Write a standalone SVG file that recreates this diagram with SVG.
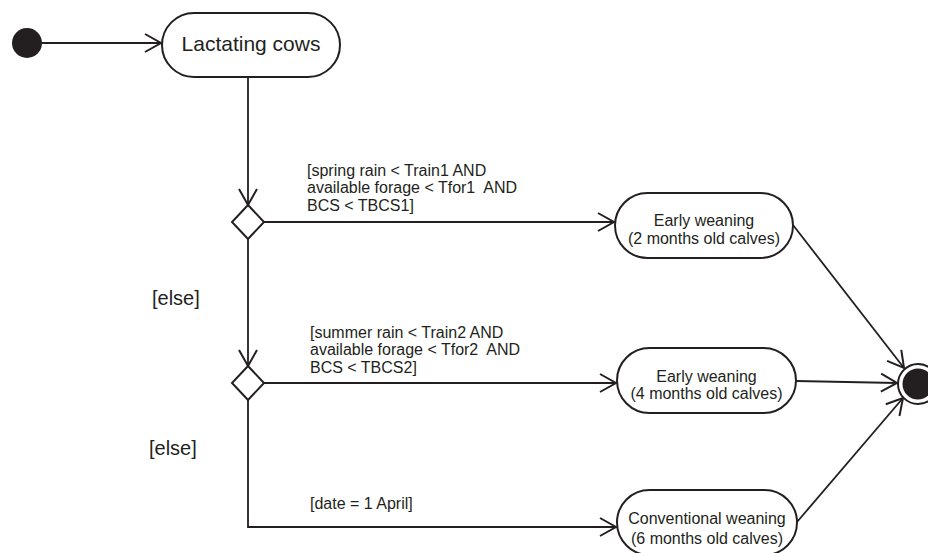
<svg xmlns="http://www.w3.org/2000/svg" width="928" height="553" viewBox="0 0 928 553">
<style>
text{font-family:"Liberation Sans",Arial,sans-serif;fill:#231f20;white-space:pre}
.box{fill:#fff;stroke:#231f20;stroke-width:2}
.edge{fill:none;stroke:#231f20;stroke-width:1.8}
.lbl{font-size:16px}
.st{font-size:16px;text-anchor:middle}
.else{font-size:20px}
</style>
<defs>
<marker id="arr" markerUnits="userSpaceOnUse" markerWidth="24" markerHeight="24" viewBox="-20 -12 24 24" refX="0" refY="0" orient="auto">
<path d="M-16,-9 L0,0 L-16,9" fill="none" stroke="#231f20" stroke-width="2"/>
</marker>
</defs>
<rect width="928" height="553" fill="#fff"/>
<g id="connectors">
<path class="edge" d="M42,43 H161" marker-end="url(#arr)"/>
<path class="edge" d="M248,77 V205" marker-end="url(#arr)"/>
<path class="edge" d="M264,222 H614" marker-end="url(#arr)"/>
<path class="edge" d="M248,239 V366" marker-end="url(#arr)"/>
<path class="edge" d="M264,383 H616" marker-end="url(#arr)"/>
<path class="edge" d="M248,400 V527 H616" marker-end="url(#arr)"/>
<path class="edge" d="M793,225 L904,368" marker-end="url(#arr)"/>
<path class="edge" d="M796,381 L897,383" marker-end="url(#arr)"/>
<path class="edge" d="M797,522 L903,398" marker-end="url(#arr)"/>
<text class="lbl" x="307" y="176">[spring rain &lt; Train1 AND</text>
<text class="lbl" x="307" y="193">available forage &lt; Tfor1  AND</text>
<text class="lbl" x="307" y="211">BCS &lt; TBCS1]</text>
<text class="lbl" x="310" y="338">[summer rain &lt; Train2 AND</text>
<text class="lbl" x="310" y="355">available forage &lt; Tfor2  AND</text>
<text class="lbl" x="310" y="373">BCS &lt; TBCS2]</text>
<text class="lbl" x="310" y="509">[date = 1 April]</text>
<text class="else" x="152" y="305">[else]</text>
<text class="else" x="149" y="455">[else]</text>
</g>
<g id="initial">
<circle cx="27" cy="43" r="15" fill="#231f20"/>
</g>
<g id="lactating">
<rect class="box" x="162" y="13" width="178" height="64" rx="32"/>
<text x="251" y="51" style="font-size:21px;text-anchor:middle">Lactating cows</text>
</g>
<g id="decision1">
<polygon class="box" points="248,205 264,222 248,239 232,222"/>
</g>
<g id="decision2">
<polygon class="box" points="248,366 264,383 248,400 232,383"/>
</g>
<g id="early2">
<rect class="box" x="615" y="193" width="178" height="65" rx="32.5"/>
<text class="st" x="704" y="226">Early weaning</text>
<text class="st" x="704" y="244">(2 months old calves)</text>
</g>
<g id="early4">
<rect class="box" x="617" y="348" width="179" height="65" rx="32.5"/>
<text class="st" x="706.5" y="382">Early weaning</text>
<text class="st" x="706.5" y="399">(4 months old calves)</text>
</g>
<g id="conventional">
<rect class="box" x="617" y="490" width="180" height="65" rx="32.5"/>
<text class="st" x="707" y="524">Conventional weaning</text>
<text class="st" x="707" y="544">(6 months old calves)</text>
</g>
<g id="final">
<circle cx="918" cy="384" r="20" fill="#fff" stroke="#231f20" stroke-width="2"/>
<circle cx="918" cy="384" r="15.5" fill="#231f20"/>
</g>
</svg>
